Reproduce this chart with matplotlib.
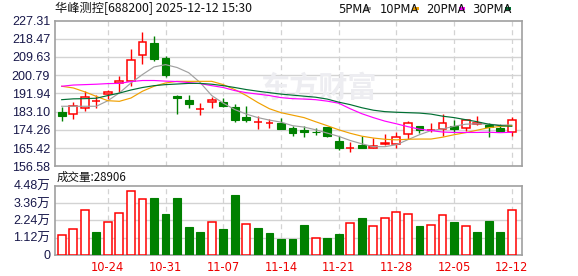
import matplotlib
matplotlib.use('Agg')
import matplotlib.pyplot as plt
from matplotlib.patches import Rectangle

# ---------------- data ----------------
dates = ['10-20', '10-21', '10-22', '10-23', '10-24',
         '10-27', '10-28', '10-29', '10-30', '10-31',
         '11-03', '11-04', '11-05', '11-06', '11-07',
         '11-10', '11-11', '11-12', '11-13', '11-14',
         '11-17', '11-18', '11-19', '11-20', '11-21',
         '11-24', '11-25', '11-26', '11-27', '11-28',
         '12-01', '12-02', '12-03', '12-04', '12-05',
         '12-08', '12-09', '12-10', '12-11', '12-12']
opens = [182.74, 182.0, 184.9, 188.2, 191.5, 196.8, 197.8, 210.8, 216.5, 209.2,
         190.7, 188.9, 184.3, 187.8, 187.6, 185.17, 180.65, 177.9, 177.5, 177.6,
         175.1, 174.3, 173.4, 175.45, 168.65, 165.3, 167.05, 165.4, 167.5, 167.4,
         172.2, 176.3, 174.2, 174.7, 176.3, 175.2, 177.1, 176.4, 175.15, 173.2]
highs = [185.2, 187.6, 193.0, 191.3, 193.8, 200.2, 213.6, 221.5, 219.9, 209.96,
         191.3, 191.0, 187.3, 190.2, 189.7, 186.97, 185.66, 180.8, 179.5, 180.0,
         175.9, 176.3, 175.2, 175.6, 171.1, 168.2, 171.1, 170.3, 172.2, 173.0,
         178.4, 176.3, 177.6, 181.96, 179.2, 179.2, 181.1, 177.6, 177.25, 180.5]
lows = [178.7, 179.5, 183.2, 184.9, 189.4, 192.5, 195.7, 206.4, 207.9, 199.75,
        181.96, 184.9, 181.6, 184.9, 185.5, 177.9, 177.9, 174.7, 175.4, 174.6,
        171.1, 170.8, 171.6, 170.9, 164.6, 163.3, 165.6, 165.4, 166.7, 165.4,
        169.8, 172.7, 173.0, 171.1, 172.7, 173.5, 176.4, 170.6, 173.85, 171.4]
closes = [180.8, 186.0, 190.2, 188.4, 192.66, 198.0, 208.2, 216.96, 208.5, 200.7,
          189.7, 187.0, 184.6, 188.9, 185.85, 178.85, 178.85, 178.3, 177.8, 174.7,
          172.7, 173.2, 173.2, 171.1, 165.7, 165.5, 165.7, 166.56, 167.7, 170.8,
          177.6, 174.3, 174.4, 177.6, 174.7, 178.85, 177.4, 175.45, 173.85, 178.85]
volumes = [12790, 16490, 28830, 14740, 21230, 27080, 41160, 35970, 36820, 26620,
           36820, 17990, 14740, 21040, 16690, 38760, 19740, 17340, 14090, 10190,
           10290, 19350, 10710, 10900, 13500, 20650, 23890, 18500, 23700, 27600,
           26490, 18700, 19150, 25650, 21300, 18500, 14800, 21950, 14800, 28906]
vol_up = [1, 1, 1, 0, 1, 1, 1, 1, 0, 0,
          0, 0, 0, 1, 0, 0, 1, 0, 0, 0,
          0, 0, 1, 0, 0, 1, 0, 1, 1, 1,
          1, 0, 1, 1, 0, 1, 0, 0, 0, 1]
ma5 = [185.7, 185.7, 185.7, 185.7, 188.4, 192.2, 197.0, 201.1, 204.8, 205.9,
       204.5, 202.0, 197.2, 190.9, 187.2, 184.1, 181.9, 180.2, 179.0, 178.0,
       176.3, 175.6, 174.3, 172.7, 171.1, 169.1, 167.5, 166.1, 166.1, 167.05,
       169.5, 171.9, 173.9, 174.7, 176.0, 177.0, 177.2, 177.0, 176.6, 176.6]
ma10 = [195.4, 194.6, 192.7, 190.5, 188.4, 188.1, 189.7, 193.0, 195.4, 197.0,
        197.8, 197.8, 197.8, 197.8, 196.2, 193.8, 190.9, 187.5, 184.5, 182.6,
        181.4, 180.2, 178.2, 176.3, 174.3, 172.6, 171.2, 170.3, 169.7, 169.4,
        169.7, 169.8, 169.8, 170.7, 171.9, 172.9, 174.1, 175.3, 175.9, 176.3]
ma20 = [195.4, 196.0, 196.2, 196.4, 196.7, 196.8, 197.7, 198.2, 198.2, 197.9,
        197.7, 197.2, 196.7, 195.7, 194.8, 193.3, 192.3, 191.6, 190.9, 189.9,
        189.4, 189.2, 188.9, 188.2, 187.2, 184.5, 182.1, 180.2, 178.5, 177.2,
        175.8, 174.6, 173.9, 173.2, 173.0, 173.0, 173.0, 173.1, 172.9, 173.1]
ma30 = [188.9, 189.3, 189.4, 189.6, 190.9, 192.1, 193.6, 194.8, 195.7, 196.2,
        196.5, 196.8, 196.8, 196.4, 195.7, 194.8, 193.8, 193.0, 192.3, 191.6,
        191.1, 190.6, 190.1, 189.2, 187.7, 186.5, 185.0, 183.8, 183.1, 182.8,
        182.6, 182.4, 181.9, 180.9, 180.2, 179.2, 178.2, 177.0, 176.3, 176.0]
price_ticks = [156.58, 165.42, 174.26, 183.10, 191.94, 200.79, 209.63, 218.47, 227.31]
price_tick_labels = ['156.58', '165.42', '174.26', '183.10', '191.94',
                     '200.79', '209.63', '218.47', '227.31']
vol_ticks = [0, 11200, 22400, 33600, 44800]
vol_tick_labels = ['0', '1.12万', '2.24万', '3.36万', '4.48万']
label_dates = ['10-24', '10-31', '11-07', '11-14', '11-21', '11-28', '12-05', '12-12']
title_text = '华峰测控[688200] 2025-12-12 15:30'
ma_names = ['5PMA', '10PMA', '20PMA', '30PMA']
volume_title = '成交量:28906'

# ---------------- style ----------------
W, H = 578, 276
RED = '#ff0000'
GREEN = '#008000'
MA_COLORS = ['#a0a0a0', '#f0a000', '#ff00ff', '#006f33']
GRID = '#d3d3d3'
SPINE = '#a0a0a0'
TICKC = '#18184a'
CJK = ['Noto Sans CJK SC', 'DejaVu Sans']
NUMF = ['Liberation Sans', 'Noto Sans CJK SC']

plt.rcParams['font.family'] = CJK

fig = plt.figure(figsize=(W / 100, H / 100), dpi=100)


def fx(x):
    return x / W


def fy(y):
    return 1 - y / H


L, R = 55, 522.3
ax = fig.add_axes([fx(L), fy(166.3), (R - L) / W, (166.3 - 20.5) / H])
axv = fig.add_axes([fx(L), fy(254.8), (R - L) / W, (254.8 - 185.7) / H])

n = len(dates)
xs = list(range(n))
xlim = (-0.58, n - 0.09)
label_idx = [dates.index(d) for d in label_dates]

for a in (ax, axv):
    a.set_xlim(*xlim)
    for s in a.spines.values():
        s.set_color(SPINE)
        s.set_linewidth(1.2)
    a.tick_params(length=0)
    a.set_xticks([])
    for i in label_idx:
        a.axvline(i, color=GRID, lw=0.9, ls=(0, (4, 3)), zorder=0)

# price panel
ax.set_ylim(price_ticks[0], price_ticks[-1])
ax.set_yticks(price_ticks)
ax.set_yticklabels(price_tick_labels, fontsize=9, color=TICKC, family=NUMF)
for t in price_ticks[1:-1]:
    ax.axhline(t, color=GRID, lw=1.0, zorder=0)

ax.text(fx(318), fy(88), '东方财富', transform=fig.transFigure, ha='center', va='center',
        fontsize=21, fontweight='bold', color='#ededf1', zorder=0.5)

bw = 0.68
for i in xs:
    o, h, l, c = opens[i], highs[i], lows[i], closes[i]
    up = c >= o
    col = RED if up else GREEN
    ax.vlines(i, l, h, color=col, lw=1.0, zorder=2)
    bot = min(o, c)
    hgt = max(abs(c - o), 0.05)
    if up:
        ax.add_patch(Rectangle((i - bw / 2, bot), bw, hgt, facecolor='white',
                               edgecolor=col, lw=1.1, zorder=3))
    else:
        ax.add_patch(Rectangle((i - bw / 2, bot), bw, hgt, facecolor=col,
                               edgecolor=col, lw=0.8, zorder=3))

for ma, colr in zip([ma5, ma10, ma20, ma30], MA_COLORS):
    ax.plot(xs, ma, color=colr, lw=0.85, zorder=4)

# volume panel
axv.set_ylim(0, vol_ticks[-1])
axv.set_yticks(vol_ticks)
axv.set_yticklabels(vol_tick_labels, fontsize=9, color=TICKC, family=NUMF)
for t in vol_ticks[1:-1]:
    axv.axhline(t, color=GRID, lw=1.0, zorder=0)
vbw = 0.68
for i in xs:
    if vol_up[i]:
        axv.add_patch(Rectangle((i - vbw / 2, 0), vbw, volumes[i], facecolor='white',
                                edgecolor=RED, lw=1.1, zorder=3))
    else:
        axv.add_patch(Rectangle((i - vbw / 2, 0), vbw, volumes[i], facecolor=GREEN,
                                edgecolor=GREEN, lw=0.8, zorder=3))

for i, d in zip(label_idx, label_dates):
    axv.text(i, -0.09, d, transform=axv.get_xaxis_transform(), ha='center', va='top',
             fontsize=8.3, color='#ee0000', family='DejaVu Sans')

# texts
fig.text(fx(55), fy(8.8), title_text, ha='left', va='center', fontsize=8.8, color='#111111')
fig.text(fx(57), fy(177.2), volume_title, ha='left', va='center', fontsize=8.3, color='#111111')

leg_x = [338.3, 380, 425.7, 471.7]
sq_x = [365, 413.3, 459.3, 505]
for name, tx, sx, colr in zip(ma_names, leg_x, sq_x, MA_COLORS):
    fig.text(fx(tx), fy(9.2), name, ha='left', va='center', fontsize=8.3, color='#111111',
             family='DejaVu Sans')
    fig.patches.append(Rectangle((fx(sx), fy(10.3)), 5.7 / W, 3 / H, transform=fig.transFigure,
                                 facecolor=colr, edgecolor='none'))

fig.savefig('out.png', dpi=100)
